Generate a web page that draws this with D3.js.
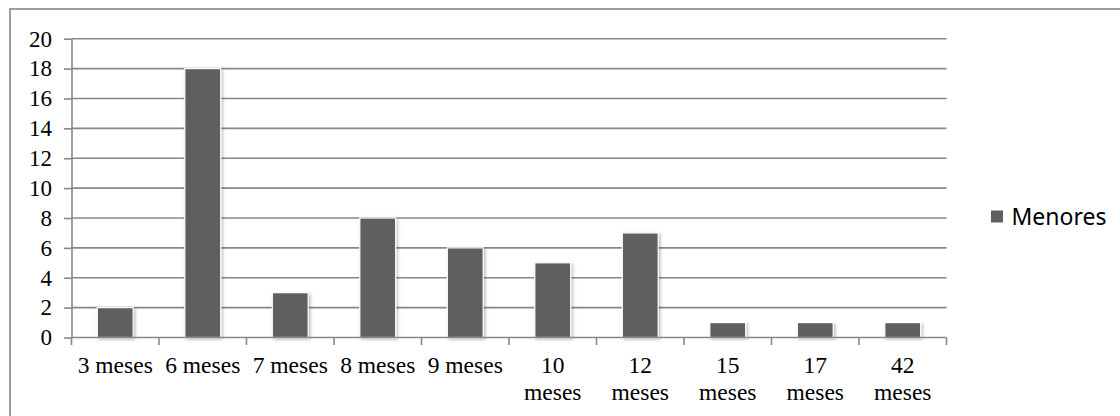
<!DOCTYPE html>
<html>
<head>
<meta charset="utf-8">
<script src="https://cdn.jsdelivr.net/npm/d3@7"></script>
<style>
  html, body { margin: 0; padding: 0; background: #fff; }
  svg { display: block; }
</style>
</head>
<body>
<svg id="chart" width="1120" height="416"></svg>
<script>
// Duration categories and counts for the "Menores" series
const categories = [
  ["3 meses"], ["6 meses"], ["7 meses"], ["8 meses"], ["9 meses"],
  ["10", "meses"], ["12", "meses"], ["15", "meses"], ["17", "meses"], ["42", "meses"]
];
const menores = [2, 18, 3, 8, 6, 5, 7, 1, 1, 1];
const yTicks = [0, 2, 4, 6, 8, 10, 12, 14, 16, 18, 20];
const seriesName = "Menores";

const svg = d3.select("#chart");
const W = 1120, H = 416;
const plot = { left: 71.5, right: 946.5, top: 38.7, bottom: 337.5 };

// drop shadow used under each bar
const defs = svg.append("defs");
const f = defs.append("filter").attr("id", "barShadow")
  .attr("x", "-30%").attr("y", "-10%").attr("width", "160%").attr("height", "130%");
f.append("feDropShadow").attr("dx", 1.5).attr("dy", 1.5).attr("stdDeviation", 1.6)
  .attr("flood-color", "#000").attr("flood-opacity", 0.28);

svg.append("rect").attr("width", W).attr("height", H).attr("fill", "#fff");

// outer chart-area frame (extends past the visible window on right/bottom)
svg.append("rect")
  .attr("x", 10).attr("y", 9).attr("width", 1200).attr("height", 500)
  .attr("fill", "none").attr("stroke", "#868686").attr("stroke-width", 1.6);

const keys = categories.map((c, i) => i);
const x = d3.scaleBand().domain(keys).range([plot.left, plot.right]).padding(0);
const y = d3.scaleLinear().domain([0, 20]).range([plot.bottom, plot.top]);

const gray = "#888888";
const serif = "'Liberation Serif', 'Times New Roman', serif";

// horizontal gridlines
svg.append("g").selectAll("line").data(yTicks.filter(d => d > 0)).join("line")
  .attr("x1", plot.left).attr("x2", plot.right)
  .attr("y1", d => y(d)).attr("y2", d => y(d))
  .attr("stroke", gray).attr("stroke-width", 1.6);

// y axis
const yAxis = svg.append("g")
  .attr("transform", `translate(${plot.left},0)`)
  .call(d3.axisLeft(y).tickValues(yTicks).tickSize(7.5).tickPadding(12).tickSizeOuter(0));
yAxis.select(".domain").attr("stroke", gray).attr("stroke-width", 1.6);
yAxis.selectAll(".tick line").attr("stroke", gray).attr("stroke-width", 1.6);
yAxis.selectAll(".tick text")
  .attr("font-family", serif)
  .attr("font-size", 23).attr("fill", "#000");

// bars
const barW = x.bandwidth() * 0.41;
svg.append("g").selectAll("rect").data(menores).join("rect")
  .attr("x", (d, i) => x(i) + (x.bandwidth() - barW) / 2)
  .attr("y", d => y(d))
  .attr("width", barW)
  .attr("height", d => y(0) - y(d))
  .attr("fill", "#5f5f5f")
  .attr("stroke", "#fff").attr("stroke-width", 1.2)
  .attr("filter", "url(#barShadow)");

// x axis with ticks at band boundaries
const xAxis = svg.append("g").attr("transform", `translate(0,${plot.bottom})`);
xAxis.append("line").attr("x1", plot.left).attr("x2", plot.right)
  .attr("stroke", gray).attr("stroke-width", 1.6);
const bounds = keys.map(k => x(k)).concat([plot.right]);
xAxis.selectAll("line.tk").data(bounds).join("line").attr("class", "tk")
  .attr("x1", d => d).attr("x2", d => d).attr("y1", 0).attr("y2", 7.5)
  .attr("stroke", gray).attr("stroke-width", 1.6);

const lbl = svg.append("g")
  .attr("font-family", serif)
  .attr("font-size", 23.5).attr("fill", "#000").attr("text-anchor", "middle");
categories.forEach((lines, i) => {
  const cx = x(i) + x.bandwidth() / 2;
  const t = lbl.append("text").attr("x", cx).attr("y", 373);
  lines.forEach((s, j) => {
    t.append("tspan").attr("x", cx).attr("y", 373 + j * 27).text(s);
  });
});

// legend
const lg = svg.append("g");
lg.append("rect").attr("x", 991).attr("y", 210.5).attr("width", 12).attr("height", 12)
  .attr("fill", "#5f5f5f");
lg.append("text").attr("x", 1011.5).attr("y", 224.5)
  .attr("font-family", "'Noto Sans', 'Open Sans', sans-serif")
  .attr("font-size", 23).attr("fill", "#000").text(seriesName);
</script>
</body>
</html>
